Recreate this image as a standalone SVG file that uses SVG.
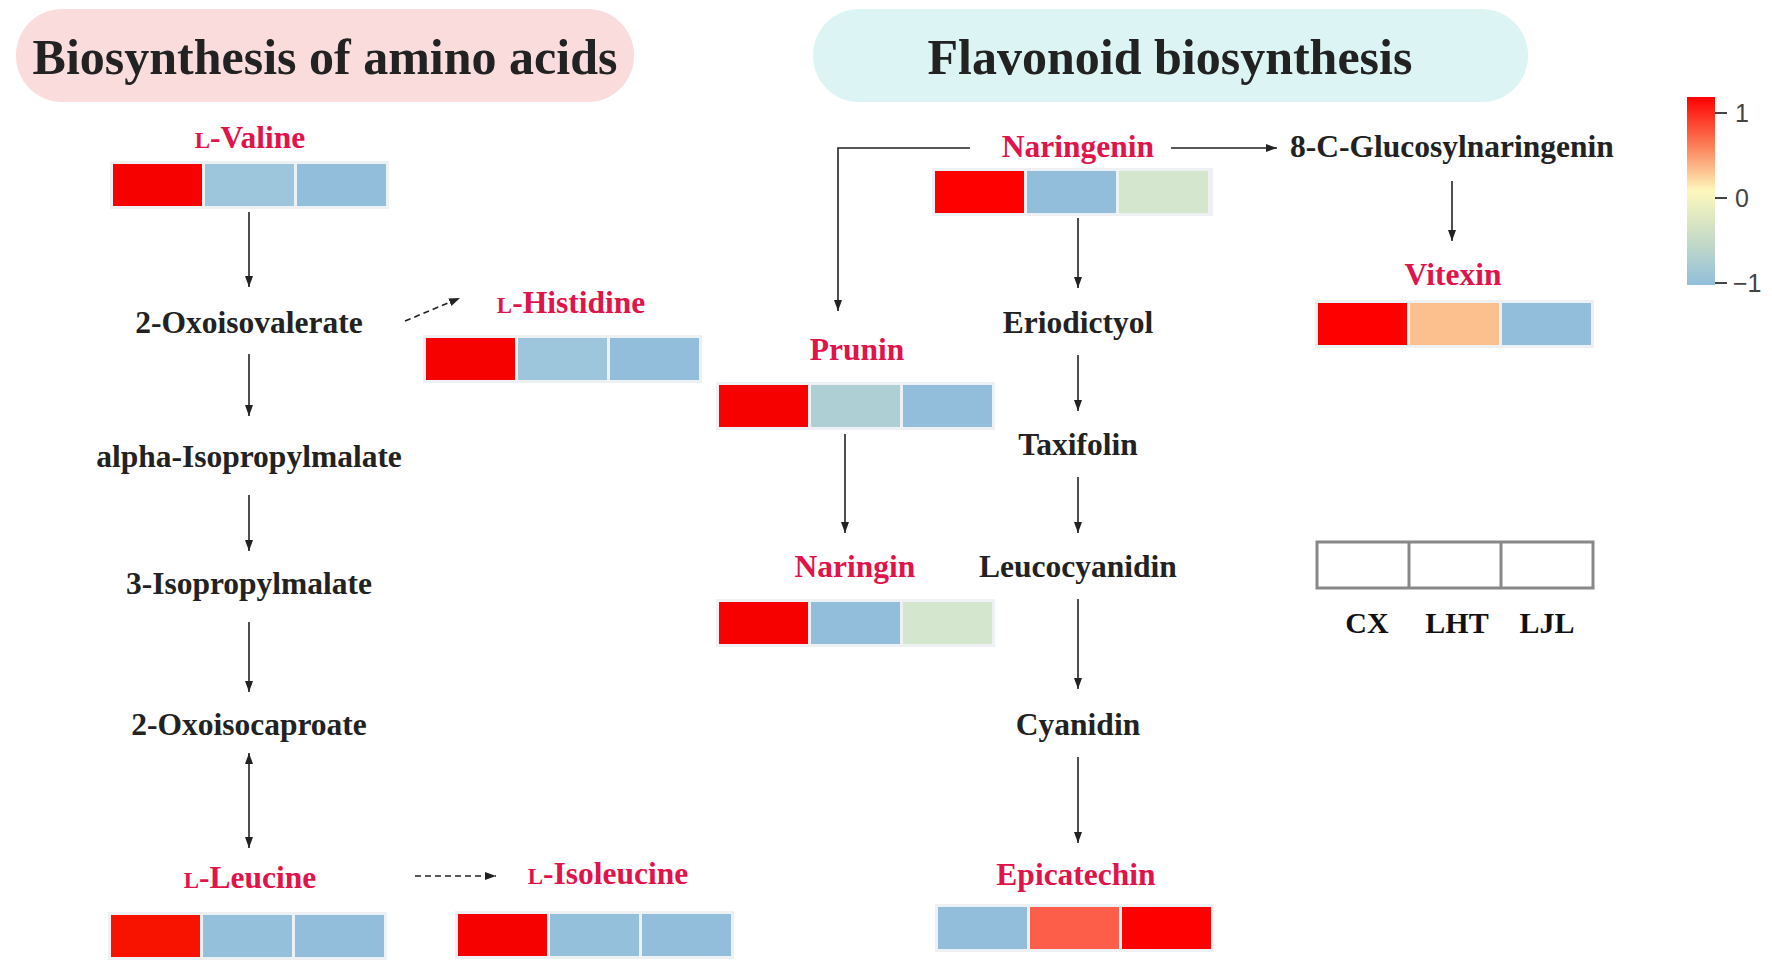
<svg xmlns="http://www.w3.org/2000/svg" width="1772" height="967" viewBox="0 0 1772 967">
<defs>
<marker id="ah" markerUnits="userSpaceOnUse" markerWidth="12" markerHeight="9" refX="11" refY="4" orient="auto-start-reverse">
<path d="M0,0 L11,4 L0,8 z" fill="#222"/>
</marker>
<linearGradient id="cbar" x1="0" y1="0" x2="0" y2="1">
<stop offset="0" stop-color="#ff0000"/>
<stop offset="0.25" stop-color="#fc7a55"/>
<stop offset="0.5" stop-color="#fdf8bd"/>
<stop offset="0.75" stop-color="#c8dcc6"/>
<stop offset="1" stop-color="#92bedb"/>
</linearGradient>
</defs>
<style>
.title{font-family:"Liberation Serif","Times New Roman",serif;font-weight:bold;font-size:50px;fill:#222;text-anchor:middle}
.lbl{font-family:"Liberation Serif","Times New Roman",serif;font-weight:bold;font-size:31.5px;fill:#222;text-anchor:middle}
.red{fill:#e0134a}
.sc{font-size:23px}
.leg{font-family:"Liberation Serif","Times New Roman",serif;font-weight:bold;font-size:30px;fill:#111;text-anchor:middle}
.tick{font-family:"Liberation Sans",Arial,sans-serif;font-size:25px;fill:#444}
.frame{fill:#eef1f3}
.conn line,.conn polyline{stroke:#222;stroke-width:1.6;fill:none}
.dash{stroke-dasharray:6 4}
</style>
<rect width="1772" height="967" fill="#ffffff"/>

<g id="title-amino">
<rect x="16" y="9" width="618" height="93" rx="46" fill="#fadcdc"/>
<text class="title" x="325" y="74">Biosynthesis of amino acids</text>
</g>
<g id="title-flavonoid">
<rect x="813" y="9" width="715" height="93" rx="46" fill="#dcf4f4"/>
<text class="title" x="1170" y="74">Flavonoid biosynthesis</text>
</g>

<g id="valine">
<text class="lbl red" x="250" y="148"><tspan class="sc">L</tspan>-Valine</text>
<rect class="frame" x="110" y="161" width="279" height="48"/>
<rect x="113" y="164" width="89" height="42" fill="#f70000"/>
<rect x="205" y="164" width="89" height="42" fill="#9dc5db"/>
<rect x="297" y="164" width="89" height="42" fill="#92bedb"/>
</g>
<g id="oxoisovalerate"><text class="lbl" x="249" y="333">2-Oxoisovalerate</text></g>
<g id="histidine">
<text class="lbl red" x="571" y="313"><tspan class="sc">L</tspan>-Histidine</text>
<rect class="frame" x="423" y="335" width="279" height="48"/>
<rect x="426" y="338" width="89" height="42" fill="#f70000"/>
<rect x="518" y="338" width="89" height="42" fill="#9dc5db"/>
<rect x="610" y="338" width="89" height="42" fill="#92bedb"/>
</g>
<g id="alpha-isopropylmalate"><text class="lbl" x="249" y="467">alpha-Isopropylmalate</text></g>
<g id="isopropylmalate"><text class="lbl" x="249" y="594">3-Isopropylmalate</text></g>
<g id="oxoisocaproate"><text class="lbl" x="249" y="735">2-Oxoisocaproate</text></g>
<g id="leucine">
<text class="lbl red" x="250" y="888"><tspan class="sc">L</tspan>-Leucine</text>
<rect class="frame" x="108" y="912" width="279" height="48"/>
<rect x="111" y="915" width="89" height="42" fill="#f81200"/>
<rect x="203" y="915" width="89" height="42" fill="#95c0dc"/>
<rect x="295" y="915" width="89" height="42" fill="#92bedb"/>
</g>
<g id="isoleucine">
<text class="lbl red" x="608" y="884"><tspan class="sc">L</tspan>-Isoleucine</text>
<rect class="frame" x="455" y="911" width="279" height="48"/>
<rect x="458" y="914" width="89" height="42" fill="#f70000"/>
<rect x="550" y="914" width="89" height="42" fill="#95c0dc"/>
<rect x="642" y="914" width="89" height="42" fill="#92bedb"/>
</g>

<g id="naringenin">
<text class="lbl red" x="1078" y="157">Naringenin</text>
<rect class="frame" x="932" y="168" width="281" height="48"/>
<rect x="935" y="171" width="89" height="42" fill="#ff0000"/>
<rect x="1027" y="171" width="89" height="42" fill="#92bedb"/>
<rect x="1119" y="171" width="89" height="42" fill="#d4e6cd"/>
</g>
<g id="glucosylnaringenin"><text class="lbl" x="1452" y="157">8-C-Glucosylnaringenin</text></g>
<g id="vitexin">
<text class="lbl red" x="1453" y="285">Vitexin</text>
<rect class="frame" x="1315" y="300" width="279" height="48"/>
<rect x="1318" y="303" width="89" height="42" fill="#ff0000"/>
<rect x="1410" y="303" width="89" height="42" fill="#fcc08e"/>
<rect x="1502" y="303" width="89" height="42" fill="#92bedb"/>
</g>
<g id="prunin">
<text class="lbl red" x="857" y="360">Prunin</text>
<rect class="frame" x="716" y="382" width="279" height="48"/>
<rect x="719" y="385" width="89" height="42" fill="#f70000"/>
<rect x="811" y="385" width="89" height="42" fill="#aecfd4"/>
<rect x="903" y="385" width="89" height="42" fill="#92bedb"/>
</g>
<g id="naringin">
<text class="lbl red" x="855" y="577">Naringin</text>
<rect class="frame" x="716" y="599" width="279" height="48"/>
<rect x="719" y="602" width="89" height="42" fill="#f70000"/>
<rect x="811" y="602" width="89" height="42" fill="#92bedb"/>
<rect x="903" y="602" width="89" height="42" fill="#d4e6cd"/>
</g>
<g id="eriodictyol"><text class="lbl" x="1078" y="333">Eriodictyol</text></g>
<g id="taxifolin"><text class="lbl" x="1078" y="455">Taxifolin</text></g>
<g id="leucocyanidin"><text class="lbl" x="1078" y="577">Leucocyanidin</text></g>
<g id="cyanidin"><text class="lbl" x="1078" y="735">Cyanidin</text></g>
<g id="epicatechin">
<text class="lbl red" x="1076" y="885">Epicatechin</text>
<rect class="frame" x="935" y="904" width="279" height="48"/>
<rect x="938" y="907" width="89" height="42" fill="#92bedb"/>
<rect x="1030" y="907" width="89" height="42" fill="#fd5e4a"/>
<rect x="1122" y="907" width="89" height="42" fill="#ff0000"/>
</g>

<g id="legend">
<rect x="1317" y="542" width="276" height="46" fill="#fff" stroke="#888" stroke-width="3"/>
<line x1="1409" y1="542" x2="1409" y2="588" stroke="#888" stroke-width="3"/>
<line x1="1501" y1="542" x2="1501" y2="588" stroke="#888" stroke-width="3"/>
<text class="leg" x="1367" y="633">CX</text>
<text class="leg" x="1457" y="633">LHT</text>
<text class="leg" x="1547" y="633">LJL</text>
</g>

<g id="colorbar">
<rect x="1687" y="97" width="28" height="188" fill="url(#cbar)"/>
<line x1="1715" y1="113" x2="1727" y2="113" stroke="#444" stroke-width="2"/>
<line x1="1715" y1="198" x2="1727" y2="198" stroke="#444" stroke-width="2"/>
<line x1="1715" y1="283" x2="1727" y2="283" stroke="#444" stroke-width="2"/>
<text class="tick" x="1735" y="122">1</text>
<text class="tick" x="1735" y="207">0</text>
<text class="tick" x="1733" y="292">−1</text>
</g>

<g id="connectors" class="conn">
<line x1="249" y1="212" x2="249" y2="287" marker-end="url(#ah)"/>
<line x1="249" y1="354" x2="249" y2="416" marker-end="url(#ah)"/>
<line x1="249" y1="495" x2="249" y2="551" marker-end="url(#ah)"/>
<line x1="249" y1="622" x2="249" y2="692" marker-end="url(#ah)"/>
<line x1="249" y1="753" x2="249" y2="848" marker-start="url(#ah)" marker-end="url(#ah)"/>
<line class="dash" x1="405" y1="321" x2="460" y2="298" marker-end="url(#ah)"/>
<line class="dash" x1="415" y1="876" x2="496" y2="876" marker-end="url(#ah)"/>
<polyline points="970,148 838,148 838,311" marker-end="url(#ah)"/>
<line x1="1171" y1="148" x2="1277" y2="148" marker-end="url(#ah)"/>
<line x1="1452" y1="181" x2="1452" y2="241" marker-end="url(#ah)"/>
<line x1="1078" y1="218" x2="1078" y2="288" marker-end="url(#ah)"/>
<line x1="1078" y1="355" x2="1078" y2="411" marker-end="url(#ah)"/>
<line x1="1078" y1="477" x2="1078" y2="533" marker-end="url(#ah)"/>
<line x1="1078" y1="599" x2="1078" y2="689" marker-end="url(#ah)"/>
<line x1="1078" y1="757" x2="1078" y2="843" marker-end="url(#ah)"/>
<line x1="845" y1="434" x2="845" y2="533" marker-end="url(#ah)"/>
</g>
</svg>
